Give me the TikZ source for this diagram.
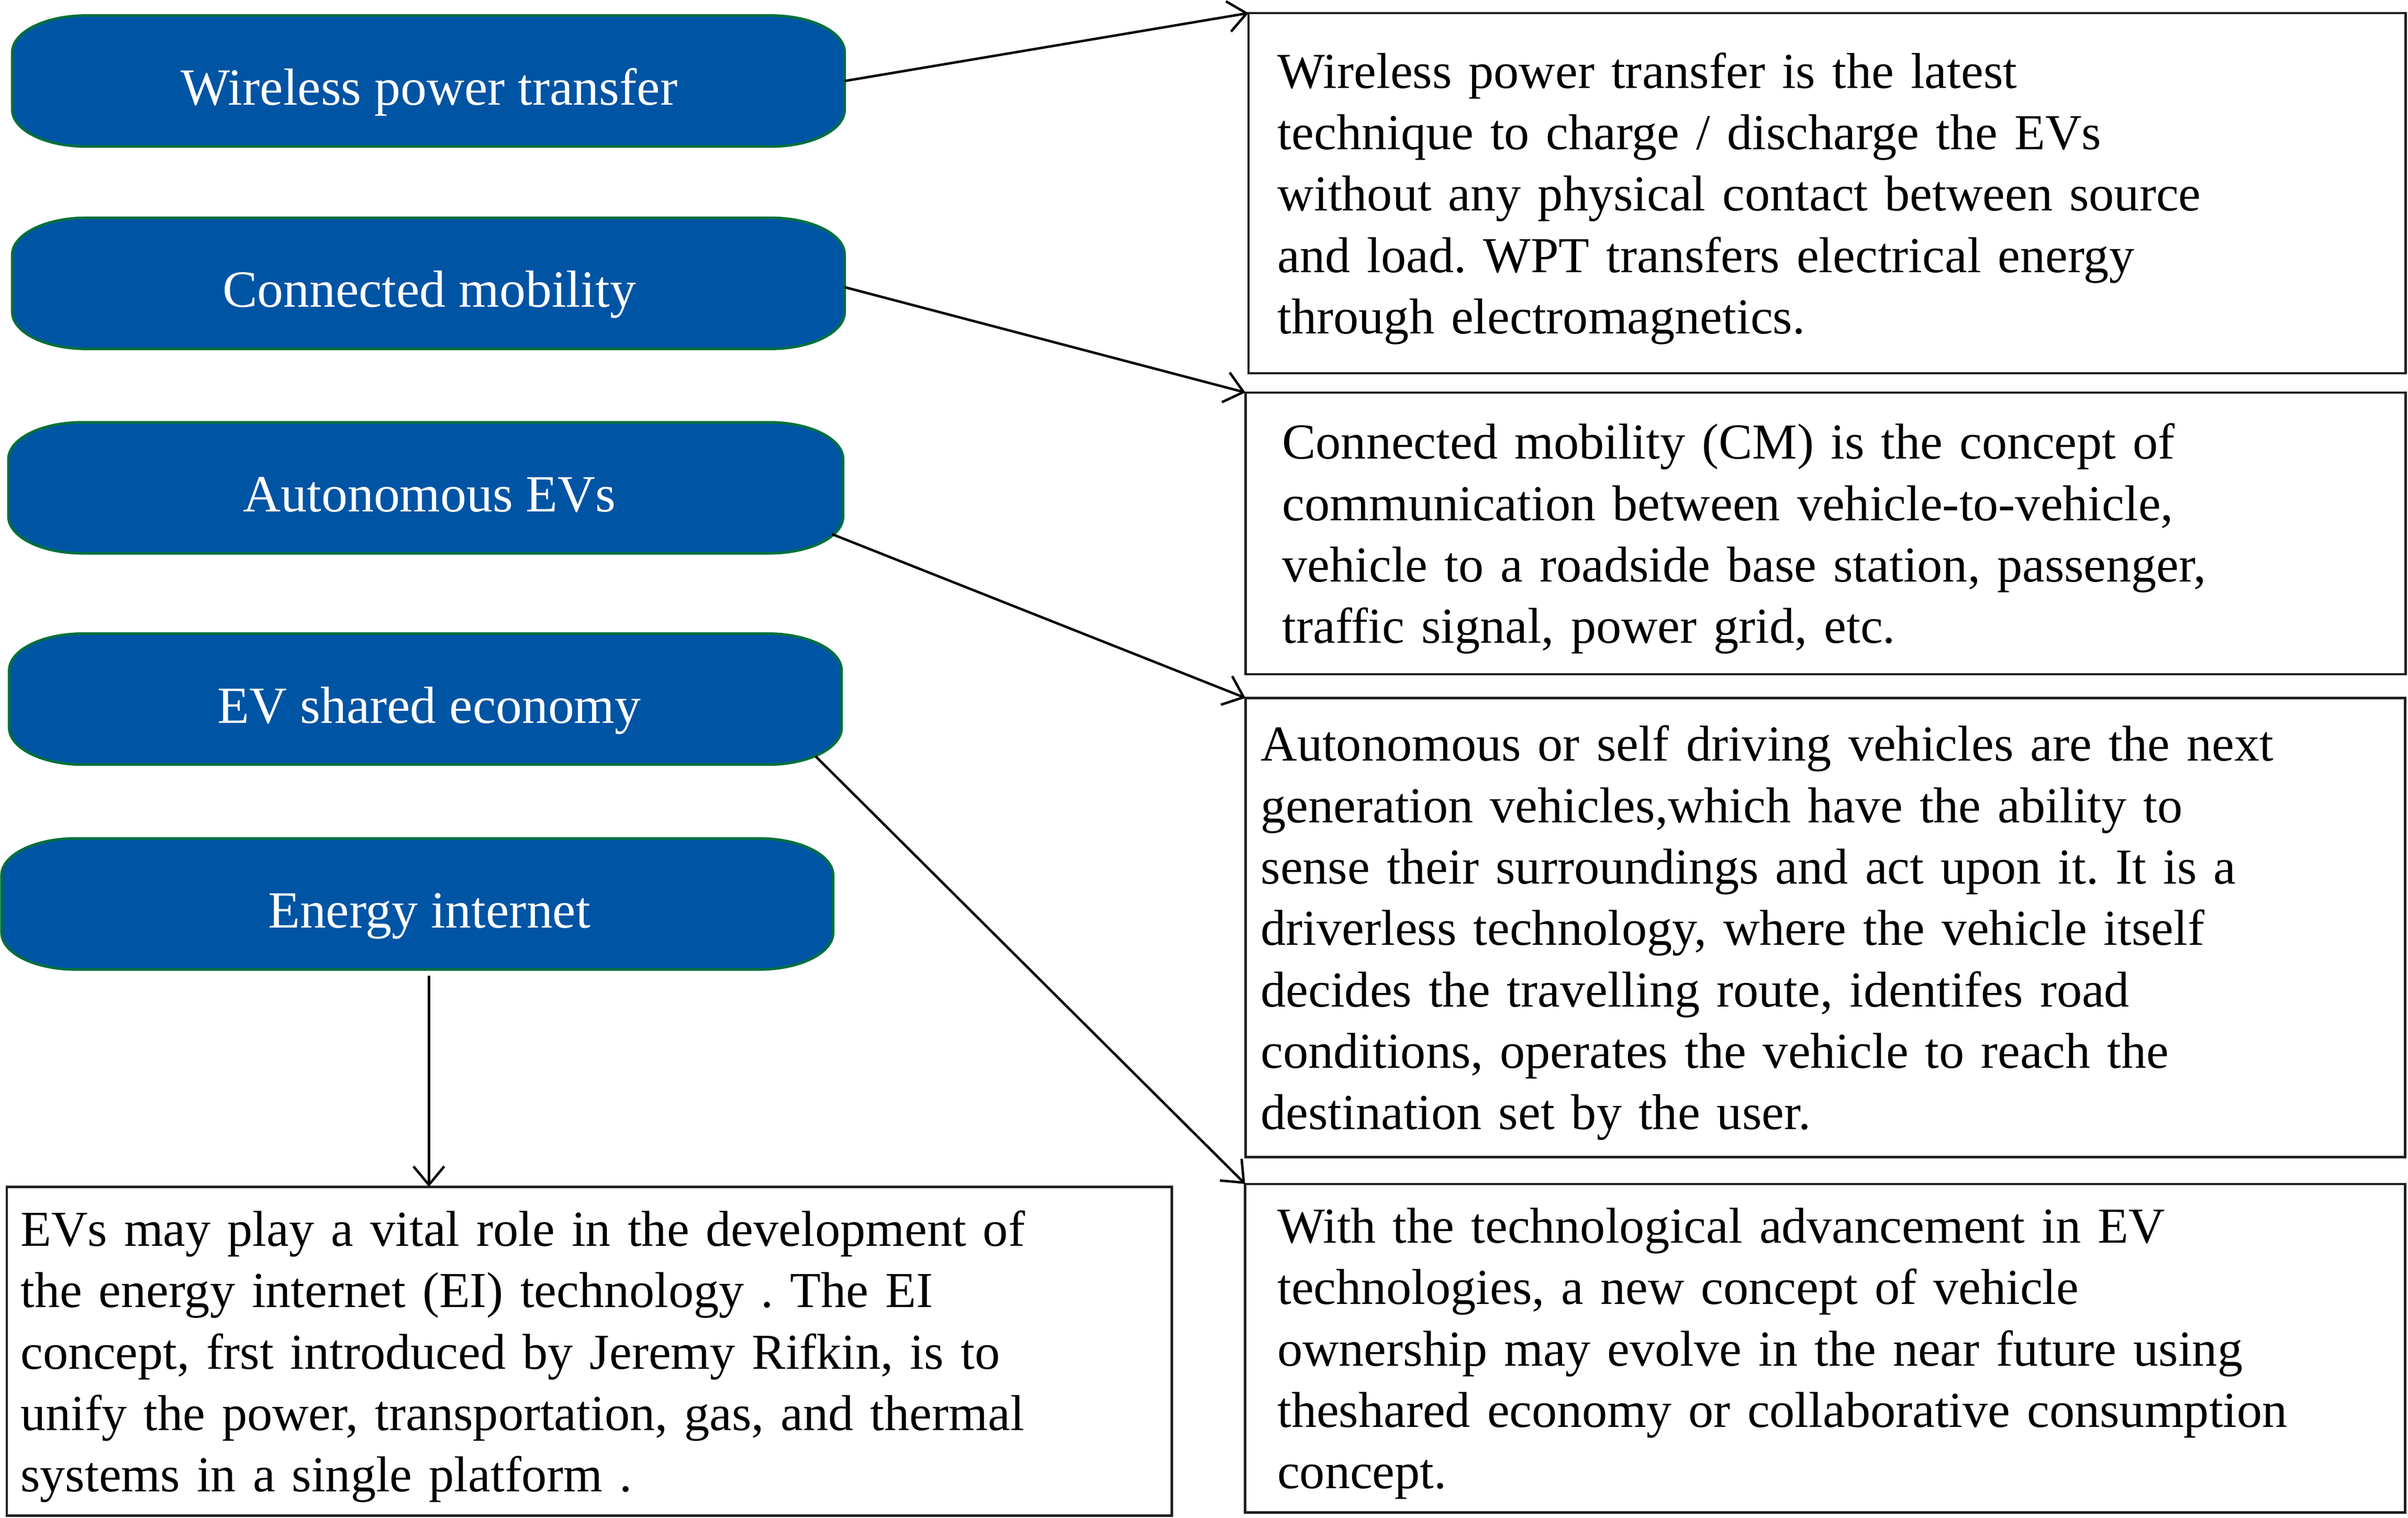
\documentclass[tikz,border=0pt]{standalone}
\usepackage{fontspec}
\setmainfont{Liberation Serif}
\usetikzlibrary{arrows.meta,backgrounds}
\definecolor{pillblue}{HTML}{0054A4}
\definecolor{pillgreen}{HTML}{00703C}
\definecolor{boxline}{HTML}{231F20}
\frenchspacing
\newcommand\pillshape[1]{%
  \path[fill=pillblue,draw=pillgreen,line width=1.7pt]
    ([xshift=48pt]#1.north west) -- ([xshift=-48pt]#1.north east)
    arc[start angle=90,end angle=0,x radius=48pt,y radius=24pt]
    -- ([yshift=24pt]#1.south east)
    arc[start angle=0,end angle=-90,x radius=48pt,y radius=24pt]
    -- ([xshift=48pt]#1.south west)
    arc[start angle=270,end angle=180,x radius=48pt,y radius=24pt]
    -- ([yshift=-24pt]#1.north west)
    arc[start angle=180,end angle=90,x radius=48pt,y radius=24pt]
    -- cycle;}
\begin{document}
\begin{tikzpicture}[x=1pt,y=1pt,
  pill/.style={minimum height=85.3pt, inner sep=0pt, outer sep=0pt, text=white,
    text height=38pt, text depth=7pt, font=\fontsize{34}{40}\selectfont},
  descbox/.style={draw=boxline, line width=1.6pt, align=left, inner ysep=0pt,
    outer sep=0pt, font=\fontsize{32.8}{40}\selectfont},
  arr/.style={-{Straight Barb[length=12pt,width=20pt]}, line width=1.6pt, black}]
\useasboundingbox (0,0) rectangle (1568,-988.5);

% blue pills
\node[pill, minimum width=542pt]   (wpt) at (279,-52.75)   {\hspace*{1pt}Wireless power transfer};
\node[pill, minimum width=542pt]   (cm)  at (279,-184.5)   {\hspace*{1pt}Connected mobility};
\node[pill, minimum width=543.5pt] (ae)  at (277.25,-317.65) {\hspace*{5pt}Autonomous EVs};
\node[pill, minimum width=542pt]   (es)  at (277,-455.25)  {\hspace*{5pt}EV shared economy};
\node[pill, minimum width=541.5pt] (ei)  at (271.75,-588.65) {\hspace*{15.5pt}Energy internet};
\begin{scope}[on background layer]
  \pillshape{wpt}\pillshape{cm}\pillshape{ae}\pillshape{es}\pillshape{ei}
\end{scope}

% description boxes
\node[descbox, minimum height=234.5pt, inner xsep=19pt, text width=715.5pt, text depth=160pt] (d1) at (1189.75,-125.75)
  {Wireless power transfer is the latest\\
   technique to charge / discharge the EVs\\
   without any physical contact between source\\
   and load. WPT transfers electrical energy\\
   through electromagnetics.};
\node[descbox, minimum height=183.4pt, inner xsep=24pt, text width=707.5pt, text depth=120pt] (d2) at (1188.75,-347.3)
  {Connected mobility (CM) is the concept of\\
   communication between vehicle-to-vehicle,\\
   vehicle to a roadside base station, passenger,\\
   traffic signal, power grid, etc.};
\node[descbox, minimum height=299pt, inner xsep=10pt, text width=735pt, text depth=240pt] (d3) at (1188.5,-604)
  {Autonomous or self driving vehicles are the next\\
   generation vehicles,which have the ability to\\
   sense their surroundings and act upon it. It is a\\
   driverless technology, where the vehicle itself\\
   decides the travelling route, identifes road\\
   conditions, operates the vehicle to reach the\\
   destination set by the user.};
\node[descbox, minimum height=214pt, inner xsep=21pt, text width=713.2pt, text depth=160pt] (d4) at (1188.4,-878)
  {With the technological advancement in EV\\
   technologies, a new concept of vehicle\\
   ownership may evolve in the near future using\\
   theshared economy or collaborative consumption\\
   concept.};
\node[descbox, minimum height=214.2pt, inner xsep=9pt, text width=740.6pt, text depth=160pt] (d5) at (383.7,-879.9)
  {EVs may play a vital role in the development of\\
   the energy internet (EI) technology . The EI\\
   concept, frst introduced by Jeremy Rifkin, is to\\
   unify the power, transportation, gas, and thermal\\
   systems in a single platform .};

% connectors
\draw[arr] (wpt.east) -- (d1.north west);
\draw[arr] ([yshift=-2.5pt]cm.east) -- (d2.north west);
\draw[arr] ([shift={(-7.3,12.5)}]ae.south east) -- (d3.north west);
\draw[arr] ([shift={(-17,5.5)}]es.south east) -- (d4.north west);
\draw[arr] ([shift={(7.5,-4)}]ei.south) coordinate (e5) -- (e5 |- d5.north);
\end{tikzpicture}
\end{document}
